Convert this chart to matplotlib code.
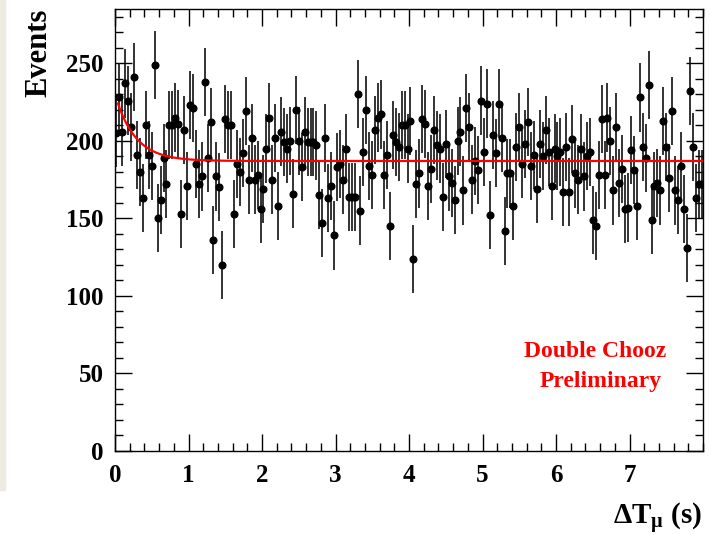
import numpy as np
import matplotlib.pyplot as plt
from matplotlib.patches import Rectangle
from matplotlib.ticker import MultipleLocator

plt.rcParams['font.family'] = ['Liberation Serif', 'DejaVu Serif']
plt.rcParams['font.weight'] = 'bold'
plt.rcParams['axes.labelweight'] = 'bold'
plt.rcParams['mathtext.fontset'] = 'custom'
plt.rcParams['mathtext.rm'] = 'Liberation Serif:bold'

# histogram of time since last muon, 0.04 s bins
bin_width = 0.04
counts = [
    205, 228, 206, 237, 226, 209, 241, 191, 180, 163,
    210, 191, 184, 249, 150, 162, 189, 172, 210, 210,
    215, 211, 153, 207, 171, 223, 221, 185, 172, 177,
    238, 189, 212, 136, 177, 170, 120, 214, 210, 210,
    153, 185, 180, 192, 219, 175, 202, 175, 178, 156,
    169, 195, 215, 175, 202, 158, 206, 199, 195, 200,
    166, 220, 200, 183, 206, 199, 199, 199, 197, 165,
    147, 202, 163, 171, 139, 183, 185, 175, 195, 164,
    164, 164, 230, 155, 193, 220, 184, 178, 207, 215,
    217, 178, 191, 145, 204, 199, 196, 210, 210, 195,
    213, 124, 172, 179, 214, 211, 171, 182, 207, 197,
    195, 164, 198, 177, 173, 162, 200, 206, 168, 221,
    209, 175, 187, 181, 226, 193, 224, 152, 204, 192,
    224, 202, 142, 179, 179, 158, 196, 209, 185, 198,
    212, 184, 191, 169, 198, 190, 207, 193, 171, 195,
    190, 193, 167, 196, 167, 201, 179, 175, 195, 177,
    190, 193, 149, 145, 178, 214, 178, 215, 200, 168,
    209, 173, 182, 156, 157, 194, 181, 158, 228, 196,
    189, 236, 149, 171, 173, 168, 213, 196, 176, 219,
    168, 162, 184, 156, 131, 232, 196, 163, 172, 172,
]
count_err = 22

# exponential + flat fit
fit_start, fit_end = 0.04, 8.0
fit_flat, fit_amp, fit_tau = 187.0, 43.0, 0.27

bin_centers = (np.arange(len(counts)) + 0.5) * bin_width

fig = plt.figure(figsize=(7.1, 5.35), dpi=100)
fig.patches.append(Rectangle((0, 45 / 535), 5 / 710, 1, transform=fig.transFigure,
                             color='#eeeadf', zorder=0))
ax = fig.add_axes([115 / 710, 84 / 535, 588 / 710, 442 / 535])

ax.errorbar(bin_centers, counts, yerr=count_err, fmt='o', color='black',
            ecolor='#111111', elinewidth=1.2, markersize=4.8, capsize=0, zorder=2)

tf = np.linspace(fit_start, fit_end, 600)
ax.plot(tf, fit_flat + fit_amp * np.exp(-tf / fit_tau), color='red', lw=1.6, zorder=3)

ax.set_xlim(0, 8)
ax.set_ylim(0, 285)
ax.xaxis.set_major_locator(MultipleLocator(1))
ax.xaxis.set_minor_locator(MultipleLocator(0.2))
ax.yaxis.set_major_locator(MultipleLocator(50))
ax.yaxis.set_minor_locator(MultipleLocator(10))
ax.set_xticks([0, 1, 2, 3, 4, 5, 6, 7])
ax.tick_params(which='both', direction='in', top=True, right=True, labelsize=18, width=1)
ax.tick_params(which='major', length=12)
ax.tick_params(which='minor', length=6)
ax.tick_params(axis='x', pad=9)
ax.tick_params(axis='y', pad=8)
for s in ax.spines.values():
    s.set_linewidth(1)

ax.set_ylabel('Events', fontsize=22, loc='top')
ax.yaxis.set_label_coords(-0.105, 1.0)
ax.set_xlabel(r'$\Delta$T$_\mathregular{\mu}$ (s)', fontsize=21, loc='right')
ax.xaxis.set_label_coords(0.998, -0.112)

ax.text(0.816, 0.224, 'Double Chooz', color='red', fontsize=17,
        ha='center', va='center', transform=ax.transAxes)
ax.text(0.826, 0.158, 'Preliminary', color='red', fontsize=17,
        ha='center', va='center', transform=ax.transAxes)

fig.savefig('out.png', dpi=100)
